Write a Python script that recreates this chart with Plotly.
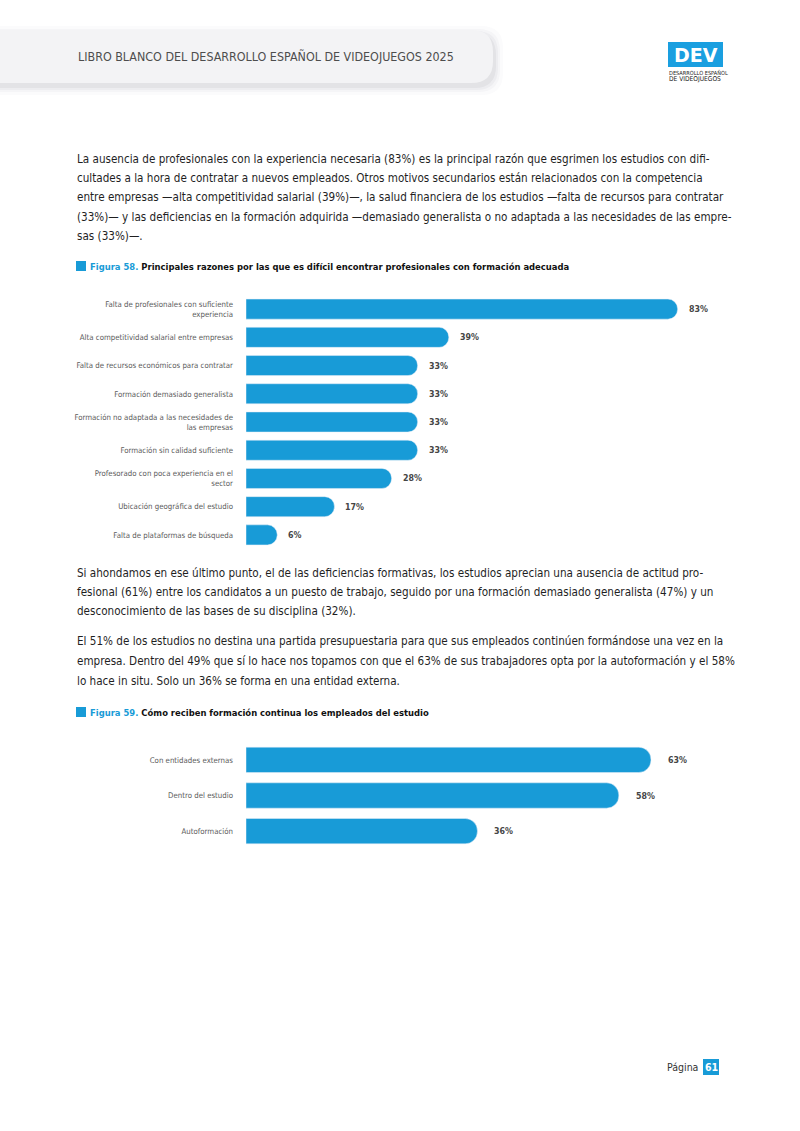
import plotly.graph_objects as go

W, H = 800, 1131

# ---- data ----
razones = [
    "Falta de profesionales con suficiente<br>experiencia",
    "Alta competitividad salarial entre empresas",
    "Falta de recursos económicos para contratar",
    "Formación demasiado generalista",
    "Formación no adaptada a las necesidades de<br>las empresas",
    "Formación sin calidad suficiente",
    "Profesorado con poca experiencia en el<br>sector",
    "Ubicación geográfica del estudio",
    "Falta de plataformas de búsqueda",
]
razones_pct = [83, 39, 33, 33, 33, 33, 28, 17, 6]

formacion = ["Con entidades externas", "Dentro del estudio", "Autoformación"]
formacion_pct = [63, 58, 36]

BLUE = "#189BD7"
BODY_FONT = "DejaVu Sans Condensed, Liberation Sans Narrow, Roboto, sans-serif"


def X(x):
    return x / W


def Y(y):
    return 1 - y / H


fig = go.Figure()

fig.add_trace(go.Bar(
    x=razones_pct, y=razones, orientation="h",
    marker=dict(color=BLUE, cornerradius="48%"),
    xaxis="x", yaxis="y", hoverinfo="skip",
))
fig.add_trace(go.Bar(
    x=formacion_pct, y=formacion, orientation="h",
    marker=dict(color=BLUE, cornerradius="48%"),
    xaxis="x2", yaxis="y2", hoverinfo="skip",
))

annotations = []
for v, c in zip(razones_pct, razones):
    annotations.append(dict(
        x=v, y=c, xref="x", yref="y", text=f"<b>{v}%</b>", showarrow=False,
        xanchor="left", yanchor="middle", xshift=9,
        font=dict(size=8.8, color="#454545", family=BODY_FONT),
    ))
for v, c in zip(formacion_pct, formacion):
    annotations.append(dict(
        x=v, y=c, xref="x2", yref="y2", text=f"<b>{v}%</b>", showarrow=False,
        xanchor="left", yanchor="middle", xshift=15,
        font=dict(size=8.8, color="#454545", family=BODY_FONT),
    ))


def text_at(text, x, y, size=12, color="#1f1f1f", xanchor="left", family=BODY_FONT):
    annotations.append(dict(
        x=X(x), y=Y(y), xref="paper", yref="paper", text=text, showarrow=False,
        xanchor=xanchor, yanchor="middle", font=dict(size=size, color=color, family=family),
    ))


# body text
p1 = [
    "La ausencia de profesionales con la experiencia necesaria (83%) es la principal razón que esgrimen los estudios con difi-",
    "cultades a la hora de contratar a nuevos empleados. Otros motivos secundarios están relacionados con la competencia",
    "entre empresas —alta competitividad salarial (39%)—, la salud financiera de los estudios —falta de recursos para contratar",
    "(33%)— y las deficiencias en la formación adquirida —demasiado generalista o no adaptada a las necesidades de las empre-",
    "sas (33%)—.",
]
p2 = [
    "Si ahondamos en ese último punto, el de las deficiencias formativas, los estudios aprecian una ausencia de actitud pro-",
    "fesional (61%) entre los candidatos a un puesto de trabajo, seguido por una formación demasiado generalista (47%) y un",
    "desconocimiento de las bases de su disciplina (32%).",
]
p3 = [
    "El 51% de los estudios no destina una partida presupuestaria para que sus empleados continúen formándose una vez en la",
    "empresa. Dentro del 49% que sí lo hace nos topamos con que el 63% de sus trabajadores opta por la autoformación y el 58%",
    "lo hace in situ. Solo un 36% se forma en una entidad externa.",
]
for i, t in enumerate(p1):
    text_at(t, 75, 159 + i * 19.2, size=11.6)
for i, t in enumerate(p2):
    text_at(t, 75, 573 + i * 19, size=11.6)
for i, t in enumerate(p3):
    text_at(t, 75, 641 + i * 20, size=11.6)

text_at(f"<b><span style='color:{BLUE}'>Figura 58.</span> Principales razones por las que es difícil encontrar profesionales con formación adecuada</b>",
        88, 266, size=9.4, color="#111111")
text_at(f"<b><span style='color:{BLUE}'>Figura 59.</span> Cómo reciben formación continua los empleados del estudio</b>",
        88, 712, size=9.4, color="#111111")

# header text
text_at("LIBRO BLANCO DEL DESARROLLO ESPAÑOL DE VIDEOJUEGOS 2025", 76, 56, size=12.4, color="#4d4d4d")

# logo
text_at("<b>DEV</b>", 695.5, 55, size=19, color="white", xanchor="center", family="DejaVu Sans")
text_at("DESARROLLO ESPAÑOL", 667, 73, size=5.6, color="#222")
text_at("DE VIDEOJUEGOS", 667, 79, size=6.6, color="#222")

# page number
text_at("Página", 700, 1067, size=10.5, color="#333", xanchor="right")
text_at("<b>61</b>", 711, 1067, size=10.5, color="white", xanchor="center")

shapes = []


# header pill with soft shadow
def pill(dx, dy, grow, fill):
    x0, x1, y0, y1, r = -10, 493 + grow + dx, 30 - grow + dy, 83 + grow + dy, 22
    return dict(
        type="path", xref="paper", yref="paper", fillcolor=fill, line=dict(width=0), layer="below",
        path=(f"M {X(x0)},{Y(y0)} L {X(x1 - r)},{Y(y0)} Q {X(x1)},{Y(y0)} {X(x1)},{Y(y0 + r)} "
              f"L {X(x1)},{Y(y1 - r)} Q {X(x1)},{Y(y1)} {X(x1 - r)},{Y(y1)} L {X(x0)},{Y(y1)} Z"),
    )


for g, a in [(8, 0.02), (5, 0.03), (3, 0.04), (1, 0.06)]:
    shapes.append(pill(2, 4, g, f"rgba(60,60,80,{a})"))
shapes.append(pill(0, 0, 0, "#f3f3f5"))


def box(x0, x1, y0, y1, color):
    shapes.append(dict(type="rect", xref="paper", yref="paper", x0=X(x0), x1=X(x1), y0=Y(y0), y1=Y(y1),
                       fillcolor=color, line=dict(width=0), layer="below"))


box(668, 723, 42, 67, "#1a9fe0")      # logo
box(76, 86, 261, 271, BLUE)           # figure markers
box(76, 86, 707, 717, BLUE)
box(703, 719, 1059, 1075, BLUE)       # page number

axis_x = dict(showgrid=False, zeroline=False, showticklabels=False, showline=False, fixedrange=True)
axis_y = dict(showgrid=False, zeroline=False, showline=False, autorange="reversed", ticks="",
              ticklabelstandoff=12, tickfont=dict(size=7.8, color="#5a5a5a", family=BODY_FONT))

fig.update_layout(
    width=W, height=H,
    margin=dict(l=0, r=0, t=0, b=0),
    paper_bgcolor="white", plot_bgcolor="rgba(0,0,0,0)",
    showlegend=False, bargap=0.29,
    font=dict(family=BODY_FONT),
    xaxis=dict(axis_x, domain=[X(246), X(766)], range=[0, 100], anchor="y"),
    yaxis=dict(axis_y, domain=[Y(549), Y(295)], anchor="x"),
    xaxis2=dict(axis_x, domain=[X(246), X(766)], range=[0, 80.9], anchor="y2"),
    yaxis2=dict(axis_y, domain=[Y(849), Y(742)], anchor="x2"),
    annotations=annotations,
    shapes=shapes,
)

fig.write_html("out.html", config={"displayModeBar": False},
               post_script="document.body.style.margin='0';")
